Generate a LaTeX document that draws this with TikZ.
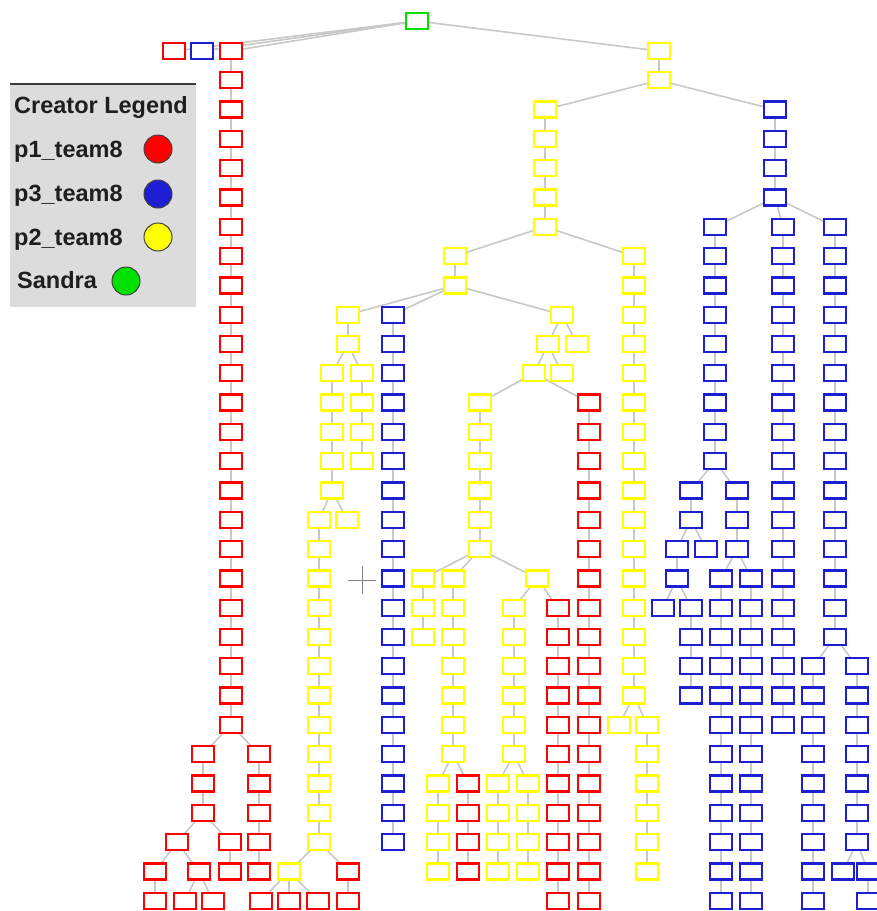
\documentclass[tikz,border=0pt]{standalone}
\usepackage{fontspec}
\setmainfont{Liberation Sans}
\usetikzlibrary{backgrounds}
\definecolor{cred}{RGB}{255,0,0}
\definecolor{cblue}{RGB}{30,30,210}
\definecolor{cyel}{RGB}{255,255,0}
\definecolor{cgreen}{RGB}{0,225,0}
\definecolor{cedge}{RGB}{200,200,200}
\definecolor{legbg}{RGB}{220,220,220}
\definecolor{legline}{RGB}{60,60,60}
\definecolor{legtxt}{RGB}{30,30,30}
\tikzset{
  box/.style={draw, line width=2.3pt, fill=white, minimum width=22.5pt, minimum height=16pt, inner sep=0pt, outer sep=0pt},
  rb/.style={box, draw=cred},
  bb/.style={box, draw=cblue},
  yb/.style={box, draw=cyel},
  gb/.style={box, draw=cgreen},
  edge/.style={draw=cedge, line width=1.6pt},
  legtext/.style={font=\bfseries\fontsize{23.5}{27}\selectfont, text=legtxt, inner sep=0pt, anchor=base west},
  legdot/.style={circle, draw=black!75, line width=1pt, minimum size=28pt, inner sep=0pt},
}
\newcommand\vchain[5]{%
  \foreach \r in {#4,...,#5}{\node[#1] (#2-\r) at (#3,{51+29.3*\r}) {};}%
  \ifnum#4<#5\relax
    \pgfmathtruncatemacro\vcstart{#4+1}%
    \begin{pgfonlayer}{background}%
    \foreach \r in {\vcstart,...,#5}{\pgfmathtruncatemacro\vcprev{\r-1}\draw[edge] (#2-\vcprev) -- (#2-\r);}%
    \end{pgfonlayer}%
  \fi}
\newcommand\link[2]{\begin{pgfonlayer}{background}\draw[edge] (#1) -- (#2);\end{pgfonlayer}}
\begin{document}
\begin{tikzpicture}[x=1pt,y=-1pt]
\useasboundingbox (0,0) rectangle (877,911);
% legend
\fill[legbg] (10,84) rectangle (196,307);
\draw[legline, line width=2pt] (10,84) -- (196,84);
\node[legtext] (lt) at (14,113) {Creator Legend};
\node[legtext] (l1) at (14,157) {p1\_team8};
\node[legdot, fill=cred] (d1) at (158,149) {};
\node[legtext] (l3) at (14,201) {p3\_team8};
\node[legdot, fill=cblue] (d3) at (158,194) {};
\node[legtext] (l2) at (14,245) {p2\_team8};
\node[legdot, fill=cyel] (d2) at (158,237) {};
\node[legtext] (l4) at (17,288) {Sandra};
\node[legdot, fill=cgreen] (d4) at (126,281) {};
% cursor cross
\draw[gray, line width=0.8pt] (348,580) -- (376,580) (362,566) -- (362,594);
% root
\node[gb] (G) at (417,21) {};
\vchain{rb}{A}{174}{0}{0}
\vchain{bb}{B}{202}{0}{0}
\vchain{rb}{L}{231}{0}{23}
\vchain{yb}{Y2}{659}{0}{1}
\link{G}{A-0}\link{G}{B-0}\link{G}{L-0}\link{G}{Y2-0}
% left red branch
\vchain{rb}{LL}{203}{24}{26}
\vchain{rb}{LR}{259}{24}{28}
\link{L-23}{LL-24}\link{L-23}{LR-24}
\vchain{rb}{LLa}{177}{27}{27}
\vchain{rb}{LLb}{230}{27}{28}
\link{LL-26}{LLa-27}\link{LL-26}{LLb-27}
\vchain{rb}{P}{155}{28}{29}
\vchain{rb}{Q}{199}{28}{28}
\link{LLa-27}{P-28}\link{LLa-27}{Q-28}
\vchain{rb}{QA}{185}{29}{29}
\vchain{rb}{QB}{213}{29}{29}
\link{Q-28}{QA-29}\link{Q-28}{QB-29}
% yellow main
\vchain{yb}{Y1}{545}{2}{6}
\vchain{bb}{BL}{775}{2}{5}
\link{Y2-1}{Y1-2}\link{Y2-1}{BL-2}
\vchain{yb}{Y3}{455}{7}{8}
\vchain{yb}{Y4}{634}{7}{22}
\link{Y1-6}{Y3-7}\link{Y1-6}{Y4-7}
\vchain{yb}{Y5}{348}{9}{10}
\vchain{bb}{BM}{393}{9}{27}
\vchain{yb}{Y6}{562}{9}{9}
\link{Y3-8}{Y5-9}\link{Y3-8}{BM-9}\link{Y3-8}{Y6-9}
\vchain{yb}{Y7}{332}{11}{15}
\vchain{yb}{Y8}{362}{11}{14}
\link{Y5-10}{Y7-11}\link{Y5-10}{Y8-11}
\vchain{yb}{Y9}{319}{16}{27}
\vchain{yb}{Y10}{347}{16}{16}
\link{Y7-15}{Y9-16}\link{Y7-15}{Y10-16}
\vchain{yb}{Y25}{289}{28}{28}
\vchain{rb}{R4}{348}{28}{29}
\link{Y9-27}{Y25-28}\link{Y9-27}{R4-28}
\vchain{rb}{SA}{261}{29}{29}
\vchain{rb}{SB}{289}{29}{29}
\vchain{rb}{SC}{318}{29}{29}
\link{Y25-28}{SA-29}\link{Y25-28}{SB-29}\link{Y25-28}{SC-29}
% middle
\vchain{yb}{Y11}{548}{10}{10}
\vchain{yb}{Y12}{577}{10}{10}
\link{Y6-9}{Y11-10}\link{Y6-9}{Y12-10}
\vchain{yb}{Y13}{534}{11}{11}
\vchain{yb}{Y14}{562}{11}{11}
\link{Y11-10}{Y13-11}\link{Y11-10}{Y14-11}
\vchain{yb}{Y15}{480}{12}{17}
\vchain{rb}{R1}{589}{12}{29}
\link{Y13-11}{Y15-12}\link{Y13-11}{R1-12}
\vchain{yb}{Y16}{423}{18}{20}
\vchain{yb}{Y17}{453}{18}{24}
\vchain{yb}{Y18}{537}{18}{18}
\link{Y15-17}{Y16-18}\link{Y15-17}{Y17-18}\link{Y15-17}{Y18-18}
\vchain{yb}{Y19}{438}{25}{28}
\vchain{rb}{R2}{468}{25}{28}
\link{Y17-24}{Y19-25}\link{Y17-24}{R2-25}
\vchain{yb}{Y20}{514}{19}{24}
\vchain{rb}{R3}{558}{19}{29}
\link{Y18-18}{Y20-19}\link{Y18-18}{R3-19}
\vchain{yb}{Y21}{498}{25}{28}
\vchain{yb}{Y22}{528}{25}{28}
\link{Y20-24}{Y21-25}\link{Y20-24}{Y22-25}
\vchain{yb}{Y23}{619}{23}{23}
\vchain{yb}{Y24}{647}{23}{28}
\link{Y4-22}{Y23-23}\link{Y4-22}{Y24-23}
% blue right
\vchain{bb}{B1}{715}{6}{14}
\vchain{bb}{B2}{783}{6}{23}
\vchain{bb}{B3}{835}{6}{20}
\link{BL-5}{B1-6}\link{BL-5}{B2-6}\link{BL-5}{B3-6}
\vchain{bb}{B4}{691}{15}{16}
\vchain{bb}{B5}{737}{15}{17}
\link{B1-14}{B4-15}\link{B1-14}{B5-15}
\vchain{bb}{B6}{677}{17}{18}
\vchain{bb}{B7}{706}{17}{17}
\link{B4-16}{B6-17}\link{B4-16}{B7-17}
\vchain{bb}{B8}{663}{19}{19}
\vchain{bb}{B9}{691}{19}{22}
\link{B6-18}{B8-19}\link{B6-18}{B9-19}
\vchain{bb}{B10}{721}{18}{29}
\vchain{bb}{B11}{751}{18}{29}
\link{B5-17}{B10-18}\link{B5-17}{B11-18}
\vchain{bb}{B12}{813}{21}{29}
\vchain{bb}{B13}{857}{21}{27}
\link{B3-20}{B12-21}\link{B3-20}{B13-21}
\vchain{bb}{B14}{843}{28}{28}
\vchain{bb}{B15}{868}{28}{29}
\link{B13-27}{B14-28}\link{B13-27}{B15-28}
\end{tikzpicture}
\end{document}
